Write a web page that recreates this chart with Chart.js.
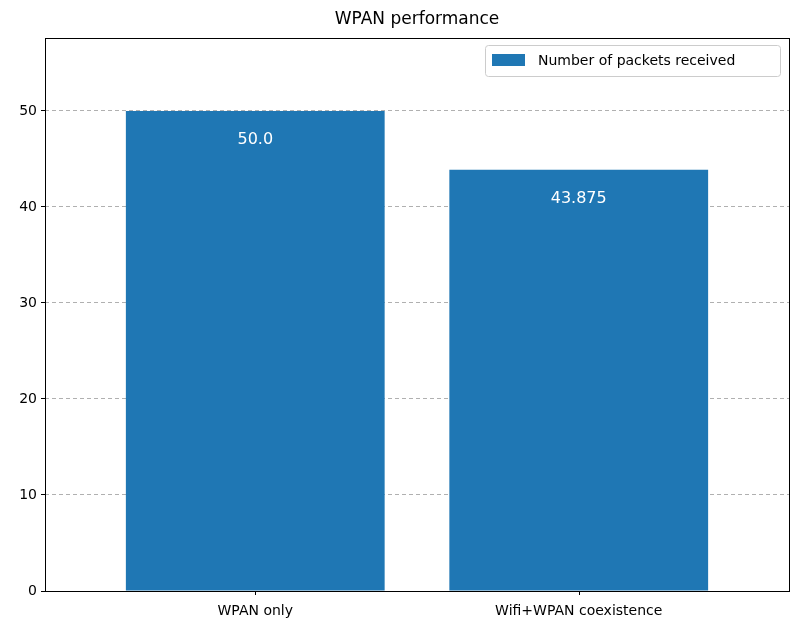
<!DOCTYPE html>
<html>
<head>
<meta charset="UTF-8">
<script src="https://cdn.jsdelivr.net/npm/chart.js"></script>
<style>body{margin:0;background:#fff}</style>
</head>
<body>
<canvas id="c" width="804" height="633" style="width:804px;height:633px"></canvas>
<script>
const categories = ['WPAN only', 'Wifi+WPAN coexistence'];
const packets = [50.0, 43.875];
const valueLabels = ['50.0', '43.875'];
const yTicks = [0, 10, 20, 30, 40, 50];
const FONT = 'DejaVu Sans';
const BLUE = '#1f77b4';

const extras = {
    id: 'extras',
    afterDatasetsDraw(chart) {
        const ctx = chart.ctx, a = chart.chartArea;
        const meta = chart.getDatasetMeta(0);
        ctx.save();
        ctx.fillStyle = '#fff';
        ctx.font = '16px ' + FONT;
        ctx.textAlign = 'center';
        ctx.textBaseline = 'middle';
        meta.data.forEach((bar, i) => {
            ctx.fillText(valueLabels[i], bar.x, bar.y + 29);
        });
        // frame
        ctx.strokeStyle = '#000';
        ctx.lineWidth = 1;
        ctx.strokeRect(a.left + 0.5, a.top + 0.5, a.right - a.left, a.bottom - a.top);
        // x tick marks
        const xs = chart.scales.x;
        [0, 1].forEach(v => {
            const px = Math.round(xs.getPixelForValue(v)) + 0.5;
            ctx.beginPath(); ctx.moveTo(px, a.bottom); ctx.lineTo(px, a.bottom + 4); ctx.stroke();
        });
        // title
        ctx.fillStyle = '#000';
        ctx.font = '17px ' + FONT;
        ctx.fillText('WPAN performance', (a.left + a.right) / 2, 20);
        // legend
        ctx.fillStyle = 'rgba(255,255,255,0.8)';
        ctx.strokeStyle = '#ccc';
        ctx.beginPath(); ctx.roundRect(485.5, 45.5, 295, 31, 3); ctx.fill(); ctx.stroke();
        ctx.fillStyle = BLUE;
        ctx.fillRect(492, 54, 33, 12);
        ctx.fillStyle = '#000';
        ctx.font = '14px ' + FONT;
        ctx.textAlign = 'left';
        ctx.fillText('Number of packets received', 538, 61);
        ctx.restore();
    }
};

new Chart(document.getElementById('c'), {
    type: 'bar',
    data: {
        datasets: [{
            label: 'Number of packets received',
            data: packets.map((v, i) => ({ x: i, y: v })),
            backgroundColor: BLUE,
            borderWidth: 0,
            barPercentage: 0.8,
            categoryPercentage: 1.0
        }]
    },
    options: {
        responsive: false,
        animation: false,
        layout: { padding: { left: 0, right: 15, top: 38, bottom: 0 } },
        plugins: { legend: { display: false }, title: { display: false }, tooltip: { enabled: false } },
        scales: {
            x: {
                type: 'linear', min: -0.65, max: 1.65, offset: false,
                afterFit: s => { s.height = 42; },
                afterBuildTicks: s => { s.ticks = categories.map((c, i) => ({ value: i })); },
                ticks: { callback: v => categories[v], color: '#000', font: { family: FONT, size: 14 }, padding: 4, maxRotation: 0 },
                grid: { display: false },
                border: { display: false }
            },
            y: {
                min: 0, max: 57.6,
                afterFit: s => { s.width = 45; },
                afterBuildTicks: s => { s.ticks = yTicks.map(v => ({ value: v })); },
                ticks: { color: '#000', font: { family: FONT, size: 14 }, padding: 4 },
                grid: { color: '#b0b0b0', tickLength: 4, tickColor: '#000', drawOnChartArea: true },
                border: { display: false, dash: [4, 3] }
            }
        }
    },
    plugins: [extras]
});
</script>
</body>
</html>
